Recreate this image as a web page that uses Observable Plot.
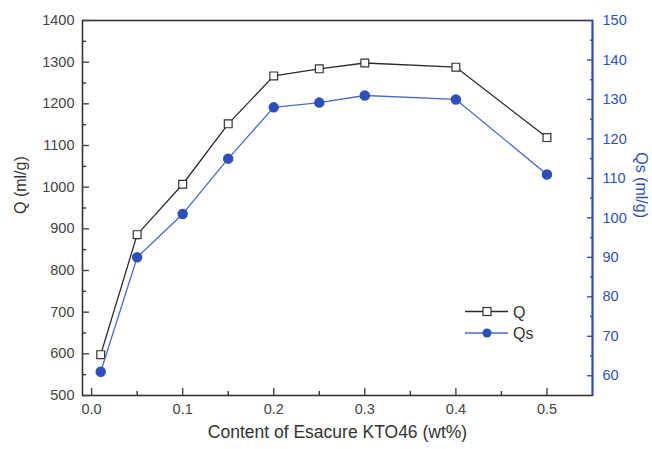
<!DOCTYPE html>
<html><head><meta charset="utf-8">
<script src="https://cdn.jsdelivr.net/npm/d3@7"></script>
<script src="https://cdn.jsdelivr.net/npm/@observablehq/plot@0.6"></script>
<style>
body{margin:0;background:#fff;}
#wrap{position:relative;width:652px;height:449px;font-family:"Liberation Sans",Arial,sans-serif;}
#legend{position:absolute;left:0;top:0;}
</style></head><body><div id="wrap"></div>
<script>
const content = [0.01, 0.05, 0.1, 0.15, 0.2, 0.25, 0.3, 0.4, 0.5];
const Q = [598, 886, 1007, 1152, 1267, 1284, 1298, 1288, 1119];
const Qs = [61, 90, 101, 115, 128, 129.2, 131, 130, 111];
const xTicks = [0, 0.1, 0.2, 0.3, 0.4, 0.5];
const xMinor = [0.05, 0.15, 0.25, 0.35, 0.45];
const qTicks = [500, 600, 700, 800, 900, 1000, 1100, 1200, 1300, 1400];
const qMinor = [550, 650, 750, 850, 950, 1050, 1150, 1250, 1350];
const qsTicks = [60, 70, 80, 90, 100, 110, 120, 130, 140, 150];
const qsMinor = [65, 75, 85, 95, 105, 115, 125, 135, 145];
const qsDomain = [55, 150];
const qDomain = [500, 1400];
const xDomain = [-0.01, 0.55];

const blue = "#2f4fb8";
const lineBlue = "#4a69cc";
const ink = "#2a2a2a";
const font = "'Liberation Sans', Arial, sans-serif";
const qsToQ = d3.scaleLinear(qsDomain, qDomain);
const data = content.map((c, i) => ({c, q: Q[i], qs: Qs[i]}));

const chart = Plot.plot({
  width: 652, height: 449,
  marginLeft: 82, marginRight: 60, marginTop: 20, marginBottom: 54,
  x: {domain: xDomain},
  y: {domain: qDomain},
  style: {fontFamily: font, fontSize: "14.5px", background: "white"},
  marks: [
    Plot.frame({stroke: "#333", strokeWidth: 1.6}),
    Plot.axisX(xTicks, {label: null, tickSize: -7, tickPadding: 15, tickFormat: d3.format(".1f"), color: "#444", strokeWidth: 1.4, fontSize: 14.5}),
    Plot.axisX(xMinor, {label: null, tickSize: -4, tickPadding: 0, tickFormat: () => "", color: "#333", strokeWidth: 1.4}),
    Plot.axisY(qTicks, {label: null, anchor: "left", tickSize: -7, tickPadding: 15, tickFormat: d3.format("d"), color: "#444", strokeWidth: 1.4, fontSize: 14.5}),
    Plot.axisY(qMinor, {label: null, anchor: "left", tickSize: -4, tickPadding: 0, tickFormat: () => "", color: "#333", strokeWidth: 1.4}),
    Plot.axisY(qsTicks.map(v => qsToQ(v)), {label: null, anchor: "right", tickSize: -6, tickPadding: 16, tickFormat: d => Math.round(qsToQ.invert(d)), color: blue, strokeWidth: 1.4, fontSize: 14.5}),
    Plot.axisY(qsMinor.map(v => qsToQ(v)), {label: null, anchor: "right", tickSize: -3, tickPadding: 0, tickFormat: () => "", color: blue, strokeWidth: 1.4}),
    Plot.ruleX([xDomain[1]], {stroke: blue, strokeWidth: 1.8}),
    Plot.text(["Q (ml/g)"], {frameAnchor: "left", dx: -62, dy: 6, rotate: -90, fontSize: 16, fill: "#333"}),
    Plot.text(["Qs (ml/g)"], {frameAnchor: "right", dx: 49, dy: 10, rotate: 90, fontSize: 16, fill: blue}),
    Plot.text(["Content of Esacure KTO46 (wt%)"], {frameAnchor: "bottom", dy: 42, fontSize: 17.5, fill: "#333"}),
    Plot.line(data, {x: "c", y: "q", stroke: ink, strokeWidth: 1.3}),
    Plot.dot(data, {x: "c", y: "q", symbol: "square", r: 4.4, fill: "white", stroke: "#333", strokeWidth: 1.2}),
    Plot.line(data, {x: "c", y: d => qsToQ(d.qs), stroke: lineBlue, strokeWidth: 1.3}),
    Plot.dot(data, {x: "c", y: d => qsToQ(d.qs), r: 4.5, fill: blue, stroke: blue})
  ]
});
const wrap = document.getElementById("wrap");
wrap.appendChild(chart);

// legend overlay
const ns = "http://www.w3.org/2000/svg";
const leg = document.createElementNS(ns, "svg");
leg.setAttribute("id", "legend");
leg.setAttribute("width", 652);
leg.setAttribute("height", 449);
leg.innerHTML = `
<g transform="translate(465,311.5)">
  <line x1="0" x2="43" y1="0" y2="0" stroke="${ink}" stroke-width="1.3"/>
  <rect x="18" y="-4" width="8" height="8" fill="white" stroke="#333" stroke-width="1.2"/>
  <text x="48" y="6" font-size="16" fill="#333" font-family="Liberation Sans, Arial, sans-serif">Q</text>
</g>
<g transform="translate(465,333)">
  <line x1="0" x2="43" y1="0" y2="0" stroke="${lineBlue}" stroke-width="1.3"/>
  <circle cx="22" cy="0" r="4.5" fill="${blue}"/>
  <text x="48" y="6" font-size="16" fill="#333" font-family="Liberation Sans, Arial, sans-serif">Qs</text>
</g>`;
wrap.appendChild(leg);
</script>
</body></html>
